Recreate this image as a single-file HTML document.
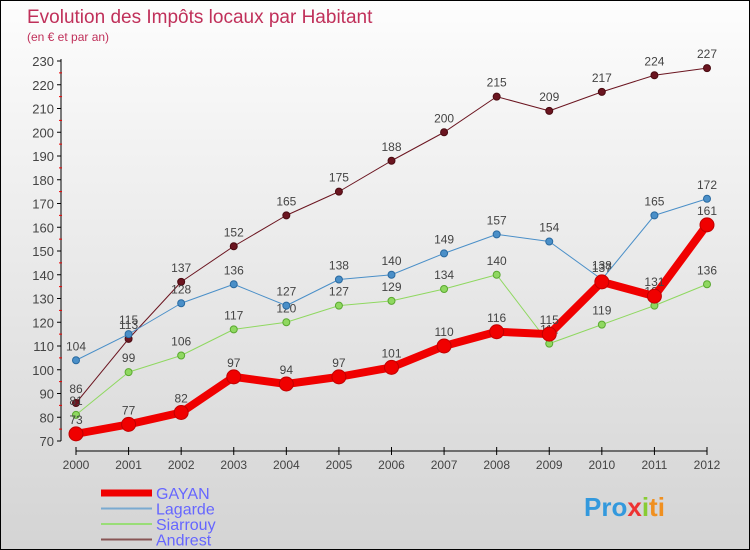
<!DOCTYPE html>
<html><head><meta charset="utf-8"><style>
body{margin:0}
#c{width:750px;height:550px;position:relative;box-sizing:border-box;border:1px solid #000;background:linear-gradient(#fdfdfd,#d4d4d4);font-family:"Liberation Sans",sans-serif;overflow:hidden}
</style></head><body>
<div id="c">
<svg id="s" width="750" height="550" style="position:absolute;left:0;top:0">
<text x="26" y="22" font-size="19" fill="#c0305a">Evolution des Impôts locaux par Habitant</text>
<text x="26" y="40" font-size="12" fill="#c0305a">(en € et par an)</text>
</svg>
</div>
<script>
const years=[2000,2001,2002,2003,2004,2005,2006,2007,2008,2009,2010,2011,2012];
const yTicks=[70,80,90,100,110,120,130,140,150,160,170,180,190,200,210,220,230];
const gayan=[73,77,82,97,94,97,101,110,116,115,137,131,161];
const lagarde=[104,115,128,136,127,138,140,149,157,154,138,165,172];
const siarrouy=[81,99,106,117,120,127,129,134,140,111,119,127,136];
const andrest=[86,113,137,152,165,175,188,200,215,209,217,224,227];
const NS='http://www.w3.org/2000/svg';
const s=document.getElementById('s');
const X=i=>75+i*(706-75)/12;
const Y=v=>440-(v-70)*(380/160);
function el(t,a,p){const e=document.createElementNS(NS,t);for(const k in a)e.setAttribute(k,a[k]);(p||s).appendChild(e);return e;}
// axes
let ax=el('line',{x1:60,y1:58,x2:60,y2:440,stroke:'#000'});


let bx=el('line',{x1:75,y1:450,x2:706,y2:450,stroke:'#000'});


yTicks.forEach((v,i)=>{
 el('line',{x1:56,y1:Y(v),x2:60,y2:Y(v),stroke:'#000'});
 if(i<yTicks.length-1)el('line',{x1:58,y1:Y(v+5),x2:61,y2:Y(v+5),stroke:'#e00'});
 const t=el('text',{x:53,y:Y(v)+5,'font-size':13,fill:'#444','text-anchor':'end'});t.textContent=v;
 
 
});
years.forEach((yr,i)=>{
 el('line',{x1:X(i),y1:446,x2:X(i),y2:454,stroke:'#000'});
 const t=el('text',{x:X(i),y:468,'font-size':12,fill:'#444','text-anchor':'middle'});t.textContent=yr;
 
 
});
function series(data,color,w,r,name,dark){
 const g=el('g',{});
 
 
 el('polyline',{points:data.map((v,i)=>X(i)+','+Y(v)).join(' '),fill:'none',stroke:color,'stroke-width':w,'stroke-linejoin':'round'},g);
 data.forEach((v,i)=>{
  const c=el('circle',{cx:X(i),cy:Y(v),r:r,fill:color,stroke:dark,'stroke-width':1},g);
  
  
  const t=el('text',{x:X(i),y:Y(v)-10,'font-size':12,fill:'#444','text-anchor':'middle'},g);t.textContent=v;
  
  
 });
}
series(andrest,'#6b1520',1,3.5,'andrest','#4a0c12');
series(siarrouy,'#8fd860',1,3.5,'siarrouy','#5aa830');
series(lagarde,'#4a8fc8',1,3.5,'lagarde','#2a6aa0');
series(gayan,'#f00000',8,7,'gayan','#c00000');
const leg=[['GAYAN','#f00000',7],['Lagarde','#7aaad0',2],['Siarrouy','#99dd77',2],['Andrest','#885555',2]];
leg.forEach((l,i)=>{
 const y=492+i*15.5;
 const g=el('g',{});
 
 
 el('line',{x1:100,y1:y,x2:151,y2:y,stroke:l[1],'stroke-width':l[2]},g);
 const t=el('text',{x:155,y:y+6,'font-size':16,fill:'#6666ff'},g);t.textContent=l[0];
});
const lg=el('text',{x:583,y:515,'font-size':26,'font-weight':'bold',fill:'#f09020'});


lg.innerHTML='<tspan fill="#3399dd">Pro</tspan><tspan fill="#ee3333">x</tspan><tspan fill="#88cc33">i</tspan><tspan fill="#f09020">ti</tspan>';
</script>
</body></html>
